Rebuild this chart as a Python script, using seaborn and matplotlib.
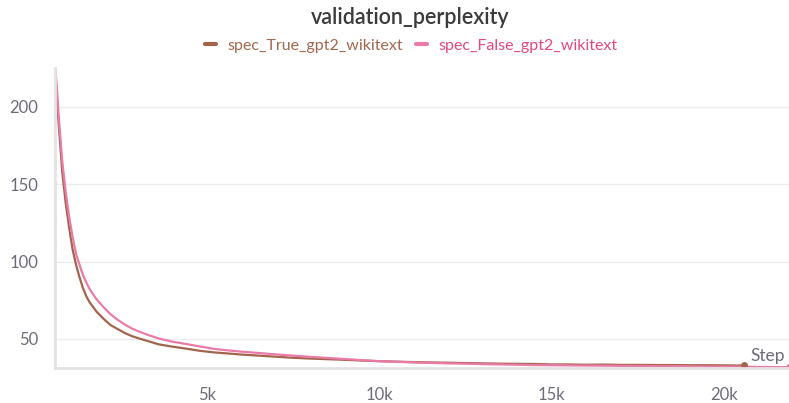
import numpy as np
import pandas as pd
import seaborn as sns
import matplotlib.pyplot as plt
from matplotlib.lines import Line2D

# data
true_steps = [600, 650, 700, 800, 900, 1000, 1100, 1200, 1300, 1400, 1500, 1600, 1800, 2000,
              2200, 2400, 2600, 2800, 3000, 3300, 3600, 4000, 4400, 4800, 5200, 5600, 6000,
              6500, 7000, 7500, 8000, 8500, 9000, 9500, 10000, 10500, 11000, 11500, 12000,
              12500, 13000, 13500, 14000, 14500, 15000, 15500, 16000, 16500, 17000, 17500,
              18000, 18500, 19000, 19500, 20000, 20400, 20580]
true_vals = [222, 205, 188, 158, 138, 122, 108, 98, 90, 83, 77.5, 73.5, 67.5, 63,
             59, 56.5, 54, 52, 50.5, 48.5, 46.5, 45, 43.7, 42.3, 41.3, 40.6, 39.9,
             39.2, 38.5, 37.8, 37.3, 36.9, 36.5, 36.0, 35.6, 35.3, 35.0, 34.8, 34.6,
             34.4, 34.2, 34.0, 33.9, 33.8, 33.5, 33.5, 33.3, 33.4, 33.2, 33.2,
             33.1, 33.1, 33.0, 33.0, 32.9, 32.8, 32.9]

false_steps = [600, 650, 700, 800, 900, 1000, 1100, 1200, 1300, 1400, 1500, 1600, 1800, 2000,
               2200, 2400, 2600, 2800, 3000, 3300, 3600, 4000, 4400, 4800, 5200, 5600, 6000,
               6500, 7000, 7500, 8000, 8500, 9000, 9500, 10000, 10500, 11000, 11500, 12000,
               12500, 13000, 13500, 14000, 14500, 15000, 15500, 16000, 16500, 17000, 17500,
               18000, 18500, 19000, 19500, 20000, 20500, 21000, 21500, 21900]
false_vals = [226, 210, 193, 165, 145, 129, 116, 105, 98, 91.5, 86.5, 82, 75.5, 70.5,
              66, 62.5, 59.5, 57, 55, 52.5, 50.3, 48.2, 46.7, 45.1, 43.6, 42.6, 41.8,
              40.9, 40.0, 39.2, 38.4, 37.7, 37.0, 36.3, 35.6, 35.2, 34.8, 34.5, 34.2,
              34.0, 33.7, 33.5, 33.3, 33.1, 33.0, 32.9, 32.8, 32.7, 32.6, 32.5,
              32.4, 32.4, 32.3, 32.2, 32.1, 32.1, 31.9, 31.8, 31.7]

run_names = ['spec_True_gpt2_wikitext', 'spec_False_gpt2_wikitext']
line_colors = ['#a3644c', '#ea7ba7']
text_colors = ['#a3674f', '#e2487f']

df = pd.concat([
    pd.DataFrame({'Step': true_steps, 'value': true_vals, 'run': run_names[0]}),
    pd.DataFrame({'Step': false_steps, 'value': false_vals, 'run': run_names[1]}),
])

sns.set_style('white')
plt.rcParams['font.family'] = ['Lato', 'DejaVu Sans']

fig = plt.figure(figsize=(7.89, 4.03), dpi=100)
ax = fig.add_axes([55 / 789, 35 / 403, 734 / 789, 300 / 403])

sns.lineplot(data=df, x='Step', y='value', hue='run', palette=line_colors,
             linewidth=1.6, legend=False, ax=ax)

# end markers
ax.plot(true_steps[-1], true_vals[-1], 'o', color=line_colors[0], ms=4)
ax.plot(false_steps[-1], false_vals[-1], 'o', color=line_colors[1], ms=4)

ax.set_xlim(590, 21890)
ax.set_ylim(31.2, 225.2)
ax.set_xticks([5000, 10000, 15000, 20000])
ax.set_xticklabels(['5k', '10k', '15k', '20k'])
ax.set_yticks([50, 100, 150, 200])
ax.set_xlabel('')
ax.set_ylabel('')

grid_c = '#ececec'
ax.grid(axis='y', color=grid_c, linewidth=1)
for s in ['top', 'right']:
    ax.spines[s].set_visible(False)
for s in ['left', 'bottom']:
    ax.spines[s].set_color('#e3e3e3')
    ax.spines[s].set_linewidth(2)

ax.tick_params(axis='y', length=7, width=1, color=grid_c, labelsize=12,
               labelcolor='#6c6c78', pad=5)
ax.tick_params(axis='x', direction='inout', length=14, width=1, color='#d8d8d8',
               labelsize=12, labelcolor='#6c6c78', pad=7)

ax.text(0.995, 0.015, 'Step', transform=ax.transAxes, ha='right', va='bottom',
        fontsize=12.5, color='#6c6c78')

fig.text(410 / 789, 1 - 18 / 403, 'validation_perplexity', ha='center', va='center',
         fontsize=15.5, color='#3b3b3b', fontweight='semibold')

handles = [Line2D([0], [0], color=c, linewidth=3) for c in line_colors]
leg = fig.legend(handles, run_names, loc='center', bbox_to_anchor=(411 / 789, 1 - 46 / 403),
                 ncol=2, frameon=False, fontsize=11.5, handlelength=0.7,
                 handletextpad=0.7, columnspacing=0.8)
for t, c in zip(leg.get_texts(), text_colors):
    t.set_color(c)

fig.savefig('out.png', dpi=100)
